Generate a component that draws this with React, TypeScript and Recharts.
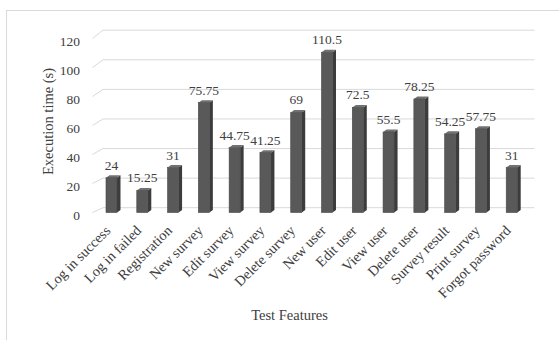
import React from 'react';
import { BarChart, Bar, XAxis, YAxis, CartesianGrid, LabelList, Label } from 'recharts';

const categories = [
  'Log in success', 'Log in failed', 'Registration', 'New survey', 'Edit survey',
  'View survey', 'Delete survey', 'New user', 'Edit user', 'View user',
  'Delete user', 'Survey result', 'Print survey', 'Forgot password',
];
const executionTimes = [24, 15.25, 31, 75.75, 44.75, 41.25, 69, 110.5, 72.5, 55.5, 78.25, 54.25, 57.75, 31];
const yTicks = [0, 20, 40, 60, 80, 100, 120];
const xTitle = 'Test Features';
const yTitle = 'Execution time (s)';

const data = categories.map((name, i) => ({ name, value: executionTimes[i] }));

const FONT = '"Liberation Serif", "Times New Roman", serif';
const TEXT = '#404040';

const Bar3D = (props: any) => {
  const { x, y, width, height } = props;
  if (width == null || height == null) return null;
  const d = 3.5;
  const e = 2.5;
  return (
    <g>
      <polygon
        points={`${x + width},${y} ${x + width + d},${y - e} ${x + width + d},${y + height - e} ${x + width},${y + height}`}
        fill="#3c3c3c"
      />
      <polygon
        points={`${x},${y} ${x + d},${y - e} ${x + width + d},${y - e} ${x + width},${y}`}
        fill="#717171"
      />
      <rect x={x} y={y} width={width} height={height} fill="#595959" stroke="#474747" strokeWidth={0.6} />
    </g>
  );
};

const YTick = (props: any) => {
  const { x, y, payload } = props;
  return (
    <text x={x} y={y} dy={7} textAnchor="end" fontFamily={FONT} fontSize={13.5} fill={TEXT}>
      {payload.value}
    </text>
  );
};

const XTick = (props: any) => {
  const { x, y, payload } = props;
  return (
    <g transform={`translate(${x},${y})`}>
      <text x={0} y={0} textAnchor="end" transform="rotate(-45)" fontFamily={FONT} fontSize={14.3} fill={TEXT}>
        {payload.value}
      </text>
    </g>
  );
};

const gridLine = (p: any) => {
  const { x1, x2, y1 } = p;
  const t = (212.5 - y1) / 174;
  const dy = 4.8 + 3.5 * t;
  return (
    <path
      key={p.key ?? `g-${p.index}`}
      d={`M${x1 - 3.5},${y1}L${x1 + 7},${y1 - dy}L${x2 + 7.5},${y1 - dy}`}
      stroke="#d9d9d9"
      strokeWidth={1}
      fill="none"
    />
  );
};

export default function App() {
  return (
    <div style={{ position: 'absolute', left: 0, top: 0, width: 559, height: 340, background: '#fff', overflow: 'hidden' }}>
      <div
        style={{
          position: 'absolute', left: 6, top: 10, width: 700, height: 500,
          borderLeft: '1px solid #d9d9d9', borderTop: '1px solid #d9d9d9',
        }}
      />
      <div style={{ position: 'absolute', left: 0, top: 0 }}>
        <BarChart
          width={559}
          height={340}
          data={data}
          margin={{ top: 38.5, right: 32, left: 0, bottom: 0 }}
          barCategoryGap={0}
        >
          <CartesianGrid vertical={false} horizontal={gridLine} />
          <XAxis
            dataKey="name"
            height={127.5}
            axisLine={false}
            tickLine={false}
            tickSize={0}
            tickMargin={19}
            interval={0}
            tick={<XTick />}
          >
            <Label
              content={(lp: any) => {
                const vb = lp.viewBox;
                return (
                  <text
                    x={vb.x + vb.width / 2 - 22}
                    y={vb.y + 107.5}
                    textAnchor="middle"
                    fontFamily={FONT}
                    fontSize={14.5}
                    fill={TEXT}
                  >
                    {xTitle}
                  </text>
                );
              }}
            />
          </XAxis>
          <YAxis
            width={96}
            domain={[0, 120]}
            ticks={yTicks}
            axisLine={false}
            tickLine={false}
            tickSize={0}
            tickMargin={16}
            tick={<YTick />}
          >
            <Label
              content={(lp: any) => {
                const vb = lp.viewBox;
                const cx = 48;
                const cy = vb.y + vb.height / 2 - 4;
                return (
                  <text
                    x={cx}
                    y={cy}
                    textAnchor="middle"
                    dominantBaseline="central"
                    transform={`rotate(-90, ${cx}, ${cy})`}
                    fontFamily={FONT}
                    fontSize={14.5}
                    fill={TEXT}
                  >
                    {yTitle}
                  </text>
                );
              }}
            />
          </YAxis>
          <Bar dataKey="value" barSize={11} shape={<Bar3D />} isAnimationActive={false}>
            <LabelList
              dataKey="value"
              position="top"
              offset={8}
              fontFamily={FONT}
              fontSize={13.5}
              fill={TEXT}
            />
          </Bar>
        </BarChart>
      </div>
    </div>
  );
}
